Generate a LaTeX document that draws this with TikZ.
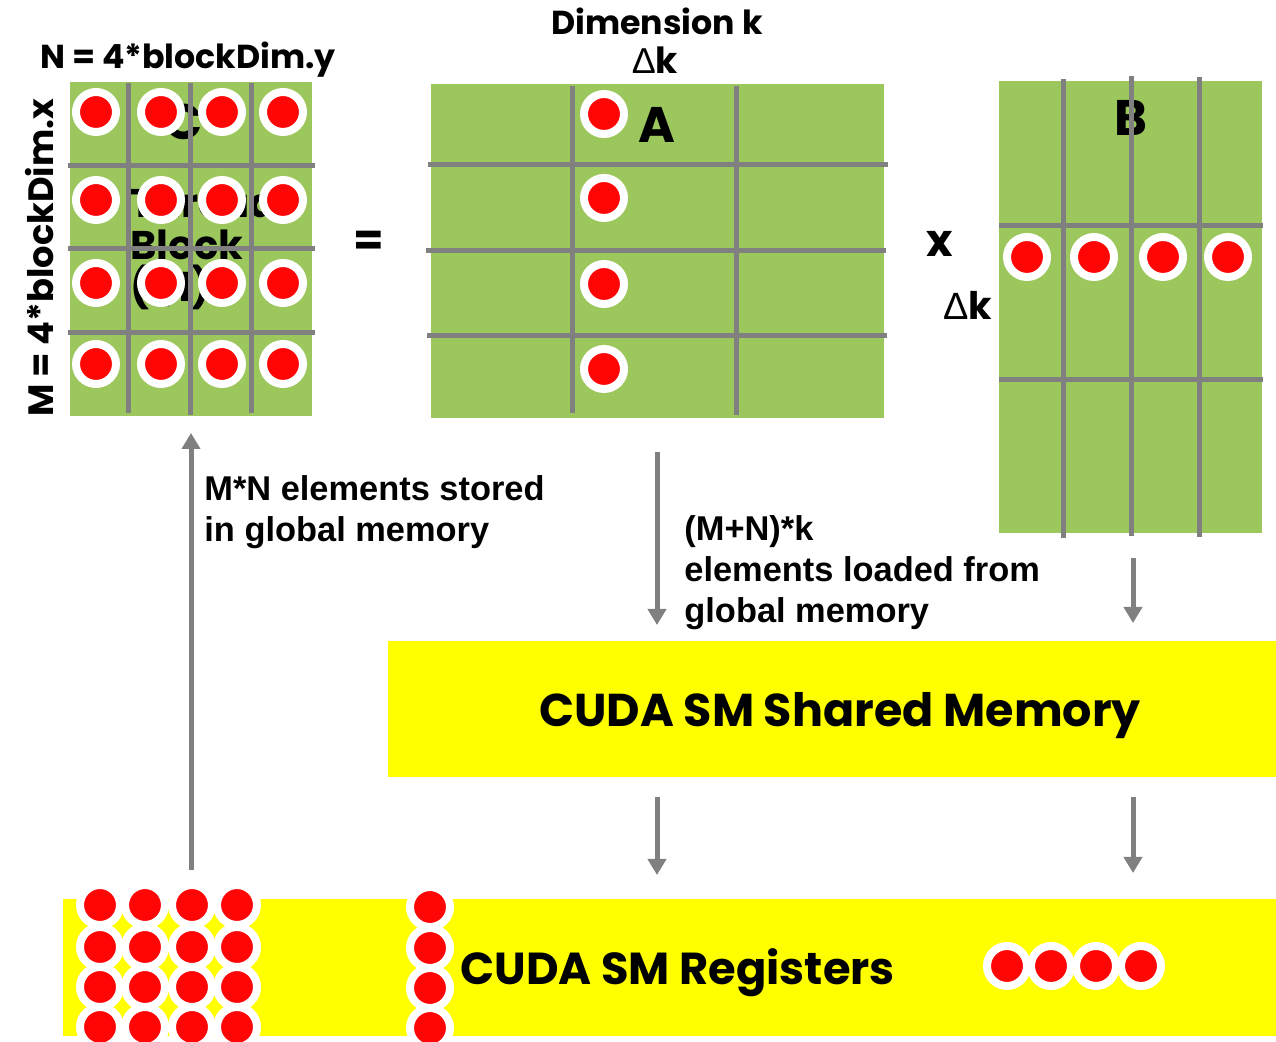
\documentclass[tikz,border=0pt]{standalone}
\usepackage{fontspec}
\setmainfont{Liberation Sans}
\newfontfamily\gothic{Poppins}
\usetikzlibrary{arrows.meta,calc}
\definecolor{mgreen}{RGB}{155,199,92}
\definecolor{lgray}{RGB}{128,128,128}
\definecolor{myel}{RGB}{255,255,0}
\definecolor{mred}{RGB}{255,5,5}
\begin{document}
\begin{tikzpicture}[x=0.5pt,y=-0.5pt,
  mat/.style={fill=mgreen, anchor=north west, inner sep=0, outer sep=0},
  ybox/.style={fill=myel, anchor=north west, inner sep=0, outer sep=0},
  gline/.style={draw=lgray, line width=2.5pt},
  dot/.style={circle, fill=mred, draw=white, line width=4pt, minimum size=20pt, inner sep=0},
  arr/.style={draw=lgray, line width=2.5pt, -{Triangle[length=8pt,width=9pt]}},
  gt/.style={font=\gothic\bfseries\fontsize{16.6}{18}\selectfont, inner sep=0},
  letter/.style={font=\gothic\bfseries\fontsize{25}{28}\selectfont, inner sep=0},
  ar/.style={font=\bfseries\fontsize{17.2}{20.5}\selectfont, inner sep=0, align=left},
  big/.style={font=\gothic\bfseries\fontsize{23}{26}\selectfont, inner sep=0}
]
\clip (0,0) rectangle (1276,1042);
\fill[white] (0,0) rectangle (1276,1042);

% matrices
\node[mat, minimum width=121pt, minimum height=167pt] (C) at (70,82) {};
\node[mat, minimum width=226.5pt, minimum height=167pt] (A) at (431,84) {};
\node[mat, minimum width=131.5pt, minimum height=226pt] (B) at (999,81) {};

% labels under grid lines
\node[letter] (Clab) at (184,122) {C};
\node[font=\gothic\bfseries\fontsize{20}{21}\selectfont, inner sep=0, align=left, anchor=north west] (tb) at (130,188) {Thread\\Block\\(1,1)};
\node[letter] (Alab) at (657,125) {A};
\node[letter] (Blab) at (1131,118) {B};

% grid lines C
\foreach \x/\ya/\yb in {128/83/413,190/83/415,251/83/413}
  \draw[gline] (\x,\ya) -- (\x,\yb);
\foreach \y in {166,249,333}
  \draw[gline] (68,\y) -- (315,\y);
% grid lines A
\foreach \x/\ya/\yb in {572/86/413,736/86/415}
  \draw[gline] (\x,\ya) -- (\x,\yb);
\foreach \y/\xa/\xb in {165/428/888,251/426/886,336/427/887}
  \draw[gline] (\xa,\y) -- (\xb,\y);
% grid lines B
\foreach \x/\ya/\yb in {1063/79/538,1131/76/536,1199/77/537}
  \draw[gline] (\x,\ya) -- (\x,\yb);
\foreach \y in {226,380}
  \draw[gline] (999,\y) -- (1263,\y);

% dots C
\foreach \y [count=\i] in {112,200,283,364}
  \foreach \x [count=\j] in {96,161,222,283}
    \node[dot] (c-\i-\j) at (\x,\y) {};
% dots A
\foreach \y [count=\i] in {114,198,284,369}
  \node[dot] (a-\i) at (604,\y) {};
% dots B
\foreach \x [count=\j] in {1027,1094,1163,1228}
  \node[dot] (b-\j) at (\x,257) {};

% top labels
\node[gt, anchor=base] (Nlab) at (188,69) {N = 4*blockDim.y};
\node[gt, rotate=90, font=\gothic\bfseries\fontsize{17.6}{19}\selectfont] (Mlab) at (40,258) {M = 4*blockDim.x};
\node[gt, anchor=base] (dim) at (657,35) {Dimension k};
\node[inner sep=0, anchor=base] (dk1) at (655,74) {\fontsize{18}{19}\selectfont Δ{\gothic\bfseries k}};
\node[inner sep=0] (dk2) at (968,305) {\fontsize{19}{20}\selectfont Δ{\gothic\bfseries k}};
\node[font=\gothic\bfseries\fontsize{22}{24}\selectfont, inner sep=0] (eq) at (369,243) {=};
\node[font=\gothic\bfseries\fontsize{22.5}{24}\selectfont, inner sep=0] (times) at (940,244) {x};

% memory boxes
\node[ybox, minimum width=444pt, minimum height=68pt] (S) at (388,641) {};
\node[ybox, minimum width=608.5pt, minimum height=68.5pt] (R) at (63,899) {};
\node[big, anchor=base] (Stext) at (840,727) {CUDA SM Shared Memory};
\node[big, anchor=base west, font=\gothic\bfseries\fontsize{22.4}{26}\selectfont] (Rtext) at (460,985) {CUDA SM Registers};

% register dots
\foreach \y [count=\i] in {905,947,987,1027}
  \foreach \x [count=\j] in {100,145,192,237}
    \node[dot] (r-\i-\j) at (\x,\y) {};
\foreach \y [count=\i] in {907,948,988,1028}
  \node[dot] (ra-\i) at (430,\y) {};
\foreach \x [count=\j] in {1007,1051,1096,1141}
  \node[dot] (rb-\j) at (\x,966) {};

% arrows
\coordinate (u1) at (191,870); \coordinate (u2) at (191,433);
\coordinate (d1a) at (657,452); \coordinate (d1b) at (657,625);
\coordinate (d2a) at (1133,558); \coordinate (d2b) at (1133,623);
\coordinate (d3a) at (657,797); \coordinate (d3b) at (657,875);
\coordinate (d4a) at (1133,797); \coordinate (d4b) at (1133,873);
\draw[arr] (u1) -- (u2);
\draw[arr] (d1a) -- (d1b);
\draw[arr] (d2a) -- (d2b);
\draw[arr] (d3a) -- (d3b);
\draw[arr] (d4a) -- (d4b);

% arrow labels
\node[ar, anchor=west] (l1) at (204,512) {M*N elements stored\\in global memory};
\node[ar, anchor=west] (l2) at (684,573) {(M+N)*k\\elements loaded from\\global memory};
\end{tikzpicture}
\end{document}
